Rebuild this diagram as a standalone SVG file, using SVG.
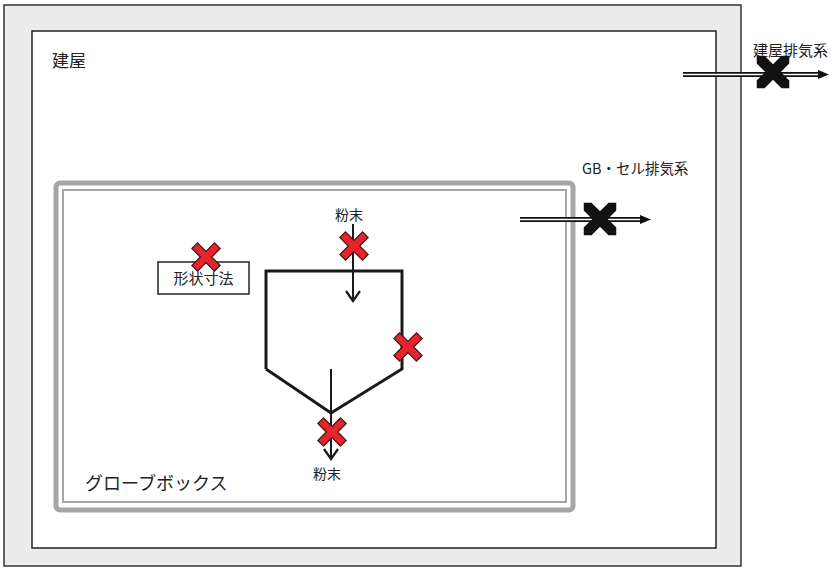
<svg xmlns="http://www.w3.org/2000/svg" width="831" height="572" viewBox="0 0 831 572">
<style>
.t{font-family:"Noto Sans CJK JP","Noto Sans CJK SC",sans-serif;fill:#222}
.ln{stroke:#1a1a1a;stroke-width:3;fill:none}
.ar{stroke:#1a1a1a;stroke-width:2;fill:none}
.rx{fill:#e8232a;stroke:#3a1a1a;stroke-width:1.2}
.bx{fill:#111}
</style>
<defs>
<marker id="chev" viewBox="0 0 16 16" refX="14" refY="8" markerWidth="16" markerHeight="16" markerUnits="userSpaceOnUse" orient="auto">
<path d="M4,1 L14,8 L4,15" fill="none" stroke="#1a1a1a" stroke-width="2.2"/>
</marker>
<path id="redx" d="M4,-16 L4,-4 L16,-4 L16,4 L4,4 L4,16 L-4,16 L-4,4 L-16,4 L-16,-4 L-4,-4 L-4,-16 Z" transform="rotate(45)"/>
<path id="blkx" d="M0,-23 L5.5,-17.5 L5.5,-5.5 L17.5,-5.5 L23,0 L17.5,5.5 L5.5,5.5 L5.5,17.5 L0,23 L-5.5,17.5 L-5.5,5.5 L-17.5,5.5 L-23,0 L-17.5,-5.5 L-5.5,-5.5 L-5.5,-17.5 Z" transform="rotate(45)"/>
</defs>
<rect width="831" height="572" fill="#fff"/>
<g id="building">
<rect x="4" y="5" width="737" height="561" fill="#ececec" stroke="#333" stroke-width="1.5"/>
<rect x="32" y="31" width="684" height="517" fill="#fff" stroke="#222" stroke-width="1.5"/>
<text class="t" x="52" y="67" font-size="17">建屋</text>
</g>
<g id="glovebox">
<rect x="56" y="183" width="517" height="327" rx="4" fill="none" stroke="#a6a6a8" stroke-width="5"/>
<rect x="63" y="190" width="503" height="312" fill="none" stroke="#a6a6a8" stroke-width="2"/>
<text class="t" x="85" y="490" font-size="18">グローブボックス</text>
</g>
<g id="vessel">
<path class="ln" d="M266,369 L266,271 L402,271 L402,369 L331,413 L266,369"/>
</g>
<g id="shape-box">
<rect x="158" y="262" width="91" height="32" fill="#fff" stroke="#222" stroke-width="1.5"/>
<text class="t" x="203.5" y="284" font-size="15" text-anchor="middle">形状寸法</text>
</g>
<g id="connectors">
<line class="ar" x1="353" y1="224" x2="353" y2="301" marker-end="url(#chev)"/>
<line class="ar" x1="331" y1="369" x2="331" y2="459" marker-end="url(#chev)"/>
<line x1="520" y1="219.5" x2="643" y2="219.5" stroke="#111" stroke-width="5"/>
<line x1="520" y1="219.5" x2="643" y2="219.5" stroke="#fff" stroke-width="1.5"/>
<path d="M640,215 L651,219.5 L640,224 Z" fill="#111"/>
<line x1="683" y1="74.5" x2="820" y2="74.5" stroke="#111" stroke-width="5"/>
<line x1="683" y1="74.5" x2="820" y2="74.5" stroke="#fff" stroke-width="1.5"/>
<path d="M818,70 L829,74.5 L818,79 Z" fill="#111"/>
</g>
<g id="labels">
<text class="t" x="349" y="220" font-size="14" text-anchor="middle">粉末</text>
<text class="t" x="327" y="479" font-size="14" text-anchor="middle">粉末</text>
<text class="t" x="582" y="174" font-size="14.5">GB・セル排気系</text>
<text class="t" x="753" y="56" font-size="15">建屋排気系</text>
</g>
<g id="marks">
<use href="#redx" class="rx" transform="translate(206,257)"/>
<use href="#redx" class="rx" transform="translate(354,246)"/>
<use href="#redx" class="rx" transform="translate(408,347)"/>
<use href="#redx" class="rx" transform="translate(332,432)"/>
<use href="#blkx" class="bx" transform="translate(600,219)"/>
<use href="#blkx" class="bx" transform="translate(773,72)"/>
</g>
</svg>
